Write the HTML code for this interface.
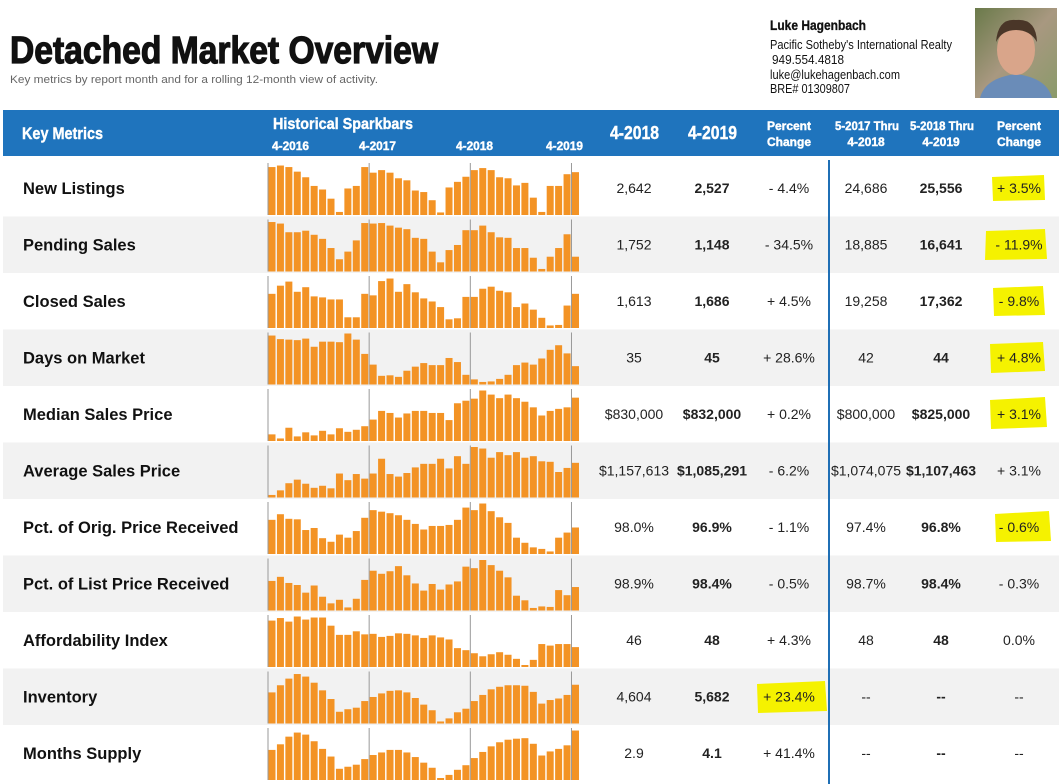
<!DOCTYPE html>
<html><head><meta charset="utf-8"><style>
html,body{margin:0;padding:0;background:#fff;width:1064px;height:784px;overflow:hidden}
svg{display:block;font-family:"Liberation Sans",Arial,sans-serif}
.n{font-family:"Liberation Sans Narrow","Liberation Sans",sans-serif;font-weight:bold}
</style></head><body>
<svg id="s" width="1064" height="784" viewBox="0 0 1064 784">
<text x="10" y="63" class="n" font-size="38" fill="#111" stroke="#111" stroke-width="1.2" textLength="428" lengthAdjust="spacingAndGlyphs">Detached Market Overview</text>
<text x="10" y="83" font-size="11" fill="#666" textLength="368" lengthAdjust="spacingAndGlyphs">Key metrics by report month and for a rolling 12-month view of activity.</text>
<text x="770" y="30" class="n" font-size="14" fill="#111" stroke="#111" stroke-width="0.3" textLength="96" lengthAdjust="spacingAndGlyphs">Luke Hagenbach</text>
<g font-family="'Liberation Sans Narrow','Liberation Sans',sans-serif" font-size="12.5" fill="#111">
<text x="770" y="49" textLength="182" lengthAdjust="spacingAndGlyphs">Pacific Sotheby's International Realty</text>
<text x="772" y="64" textLength="72" lengthAdjust="spacingAndGlyphs">949.554.4818</text>
<text x="770" y="79" textLength="130" lengthAdjust="spacingAndGlyphs">luke@lukehagenbach.com</text>
<text x="770" y="93" textLength="80" lengthAdjust="spacingAndGlyphs">BRE# 01309807</text>
</g>
<defs><linearGradient id="bg" x1="0" y1="0" x2="1" y2="1"><stop offset="0" stop-color="#6a7a4a"/><stop offset="0.5" stop-color="#a89880"/><stop offset="1" stop-color="#8a9a6a"/></linearGradient></defs>
<rect x="975" y="8" width="82" height="90" fill="url(#bg)"/>
<path d="M980 98 Q985 78 1016 74 Q1047 78 1052 98Z" fill="#6a8cb8"/>
<ellipse cx="1016" cy="50" rx="19" ry="25" fill="#d9a58a"/>
<path d="M996 42 Q998 18 1016 20 Q1036 18 1037 42 Q1030 30 1016 30 Q1002 30 996 42Z" fill="#4a3628"/>
<rect x="3" y="110" width="1056" height="46" fill="#1f74bd"/>
<g fill="#fff" stroke="#fff" stroke-width="0.4" class="n">
<text x="22" y="139" font-size="17" textLength="81" lengthAdjust="spacingAndGlyphs">Key Metrics</text>
<text x="273" y="129" font-size="16" textLength="140" lengthAdjust="spacingAndGlyphs">Historical Sparkbars</text>
<text x="272" y="150" font-size="12" textLength="37" lengthAdjust="spacingAndGlyphs">4-2016</text>
<text x="359" y="150" font-size="12" textLength="37" lengthAdjust="spacingAndGlyphs">4-2017</text>
<text x="456" y="150" font-size="12" textLength="37" lengthAdjust="spacingAndGlyphs">4-2018</text>
<text x="546" y="150" font-size="12" textLength="37" lengthAdjust="spacingAndGlyphs">4-2019</text>
<text x="610" y="139" font-size="18" textLength="49" lengthAdjust="spacingAndGlyphs">4-2018</text>
<text x="688" y="139" font-size="18" textLength="49" lengthAdjust="spacingAndGlyphs">4-2019</text>
<text x="789" y="130" font-size="12" text-anchor="middle">Percent</text>
<text x="789" y="146" font-size="12" text-anchor="middle">Change</text>
<text x="835" y="130" font-size="12" textLength="64" lengthAdjust="spacingAndGlyphs">5-2017 Thru</text>
<text x="866" y="146" font-size="12" text-anchor="middle">4-2018</text>
<text x="910" y="130" font-size="12" textLength="64" lengthAdjust="spacingAndGlyphs">5-2018 Thru</text>
<text x="941" y="146" font-size="12" text-anchor="middle">4-2019</text>
<text x="1019" y="130" font-size="12" text-anchor="middle">Percent</text>
<text x="1019" y="146" font-size="12" text-anchor="middle">Change</text>
</g>
<g id="rows"></g>
<g fill="#f5f200">
<path d="M992 177 L1044 175 L1045 200 L993 201Z"/>
<path d="M986 231 L1045 229 L1047 259 L985 260Z"/>
<path d="M993 288 L1043 286 L1045 315 L994 316Z"/>
<path d="M990 344 L1043 342 L1045 371 L991 373Z"/>
<path d="M990 400 L1045 397 L1047 427 L991 429Z"/>
<path d="M995 514 L1049 511 L1051 541 L996 542Z"/>
<path d="M757 684 L825 681 L827 711 L758 713Z"/>
</g>
<g id="txt"></g>
<line x1="829" y1="160" x2="829" y2="784" stroke="#1f6fb5" stroke-width="2"/>
</svg>
<script>
(function(){
var names=["New Listings","Pending Sales","Closed Sales","Days on Market","Median Sales Price","Average Sales Price","Pct. of Orig. Price Received","Pct. of List Price Received","Affordability Index","Inventory","Months Supply"];
var vals=[["2,642","2,527","- 4.4%","24,686","25,556","+ 3.5%"],["1,752","1,148","- 34.5%","18,885","16,641","- 11.9%"],["1,613","1,686","+ 4.5%","19,258","17,362","- 9.8%"],["35","45","+ 28.6%","42","44","+ 4.8%"],["$830,000","$832,000","+ 0.2%","$800,000","$825,000","+ 3.1%"],["$1,157,613","$1,085,291","- 6.2%","$1,074,075","$1,107,463","+ 3.1%"],["98.0%","96.9%","- 1.1%","97.4%","96.8%","- 0.6%"],["98.9%","98.4%","- 0.5%","98.7%","98.4%","- 0.3%"],["46","48","+ 4.3%","48","48","0.0%"],["4,604","5,682","+ 23.4%","--","--","--"],["2.9","4.1","+ 41.4%","--","--","--"]];
var D=[
[.94,.97,.94,.85,.74,.57,.5,.32,.06,.52,.57,.94,.83,.88,.83,.72,.68,.48,.45,.29,.05,.54,.65,.75,.88,.92,.88,.74,.72,.58,.63,.34,.06,.57,.57,.8,.84],
[.97,.94,.77,.77,.8,.72,.64,.46,.24,.39,.61,.95,.94,.95,.9,.86,.83,.66,.64,.39,.18,.42,.52,.81,.81,.9,.77,.67,.66,.46,.46,.27,.05,.29,.46,.73,.29],
[.67,.83,.91,.71,.8,.62,.6,.56,.56,.21,.21,.67,.64,.92,.97,.71,.86,.7,.58,.52,.41,.17,.19,.61,.61,.77,.81,.73,.7,.41,.48,.36,.2,.05,.06,.44,.67],
[.96,.89,.88,.87,.9,.74,.84,.84,.83,1,.88,.6,.39,.17,.18,.15,.27,.35,.42,.38,.38,.52,.44,.19,.1,.05,.06,.11,.19,.38,.43,.39,.51,.68,.77,.61,.36],
[.13,.05,.26,.09,.17,.11,.2,.13,.25,.18,.22,.29,.42,.59,.55,.46,.54,.59,.59,.55,.55,.41,.74,.79,.83,.99,.91,.84,.91,.84,.77,.66,.5,.59,.63,.66,.85],
[.05,.14,.28,.35,.27,.19,.23,.18,.47,.34,.46,.37,.47,.76,.46,.41,.48,.59,.66,.66,.76,.57,.81,.66,.99,.96,.78,.89,.83,.89,.78,.81,.71,.7,.5,.58,.68],
[.67,.78,.69,.68,.47,.51,.31,.24,.38,.32,.45,.71,.86,.83,.8,.76,.67,.59,.48,.55,.55,.57,.67,.91,.86,.99,.84,.72,.61,.32,.22,.13,.1,.05,.32,.42,.52],
[.58,.66,.54,.5,.35,.49,.27,.14,.21,.06,.23,.6,.78,.72,.77,.87,.69,.53,.39,.52,.41,.51,.57,.86,.83,.99,.89,.78,.65,.29,.2,.05,.08,.07,.4,.3,.46],
[.91,.96,.89,.99,.93,.97,.97,.81,.63,.63,.7,.64,.65,.59,.61,.66,.65,.62,.57,.62,.58,.54,.37,.33,.27,.21,.25,.29,.24,.16,.03,.14,.45,.42,.45,.45,.39],
[.61,.75,.88,.97,.92,.8,.65,.48,.23,.28,.31,.44,.52,.59,.64,.65,.61,.5,.37,.26,.04,.1,.22,.29,.44,.56,.67,.72,.75,.75,.74,.62,.39,.46,.49,.56,.76],
[.59,.7,.85,.93,.89,.76,.61,.46,.22,.26,.3,.41,.49,.54,.59,.59,.54,.45,.34,.24,.03,.1,.2,.29,.43,.55,.66,.74,.79,.81,.82,.71,.48,.56,.61,.68,.97]];
var ns="http://www.w3.org/2000/svg",R=document.getElementById("rows"),T=document.getElementById("txt");
function el(p,t,a,tx){var e=document.createElementNS(ns,t);for(var k in a)e.setAttribute(k,a[k]);if(tx!=null)e.textContent=tx;p.appendChild(e);return e;}
var cx=[634,712,789,866,941,1019];
for(var i=0;i<11;i++){
 var y0=160+i*56.5,y1=y0+56.5;
 if(i%2==1)el(R,"rect",{x:3,y:y0,width:1056,height:56.5,fill:"#f2f2f2"});
 var b=y1-1.5;
 for(var k=0;k<4;k++){var x=268+k*12*8.43;el(R,"line",{x1:x,y1:y0+3,x2:x,y2:b,stroke:"#999","stroke-width":1});}
 for(var j=0;j<37;j++){var h=Math.max(2,D[i][j]*51);el(R,"rect",{x:268.5+j*8.43,y:b-h,width:7,height:h,fill:"#f39325"});}
 el(T,"text",{x:23,y:y0+34,"font-size":16.5,fill:"#111","font-weight":"bold"},names[i]);
 for(var c=0;c<6;c++){var bold=(c==1||c==4);el(T,"text",{x:cx[c],y:y0+33,"font-size":14,fill:"#222","text-anchor":"middle","font-weight":bold?"bold":"normal"},vals[i][c]);}
}
})();
</script>
</body></html>
